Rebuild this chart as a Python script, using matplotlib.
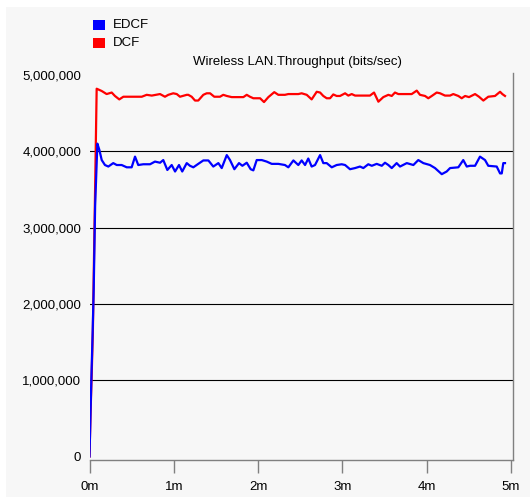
import matplotlib
matplotlib.use("Agg")
import matplotlib.pyplot as plt
from matplotlib.patches import Rectangle

# DCF series (red): time in seconds, throughput in Mbit/s
dcf_t = [0, 0.8, 1.6, 2.4, 3.2, 4.2, 5.1, 8.7, 12.2, 15.8, 18.1, 21.2, 24.1, 37.2,
         40.7, 44.3, 50.2, 53.7, 56.1, 59.6, 62.1, 64.4, 69.2, 70.3, 72.7, 75.1,
         77.4, 81.0, 83.4, 85.8, 88.8, 92.9, 95.2, 97.7, 101.2, 109.5, 111.9, 114.2,
         116.6, 121.4, 124.2, 127.3, 131.5, 134.4, 139.1, 141.5, 146.3, 148.6, 151.0,
         154.6, 158.1, 161.7, 164.1, 166.4, 168.8, 171.2, 173.5, 175.9, 178.3, 181.9,
         184.2, 186.6, 189.0, 199.6, 202.5, 205.6, 209.1, 212.7, 215.1, 217.4, 219.8,
         229.3, 232.9, 235.2, 238.8, 241.1, 243.6, 247.1, 249.5, 253.0, 256.6, 258.9,
         262.5, 264.9, 267.3, 270.1, 274.4, 277.2, 280.3, 283.8, 288.6, 292.2, 293.8,
         295.7]
dcf_v = [0, 0.6, 1.1, 1.65, 2.6, 3.75, 4.82, 4.79, 4.75, 4.77, 4.725, 4.68, 4.715, 4.715,
         4.74, 4.73, 4.75, 4.715, 4.74, 4.76, 4.75, 4.715, 4.74, 4.74, 4.715, 4.665,
         4.665, 4.74, 4.76, 4.76, 4.715, 4.715, 4.74, 4.725, 4.71, 4.71, 4.74, 4.715,
         4.695, 4.695, 4.645, 4.71, 4.775, 4.74, 4.74, 4.75, 4.75, 4.75, 4.76,
         4.74, 4.68, 4.78, 4.77, 4.725, 4.695, 4.695, 4.745, 4.725, 4.725, 4.76,
         4.73, 4.75, 4.73, 4.73, 4.77, 4.65, 4.71, 4.74, 4.725, 4.77, 4.75,
         4.75, 4.795, 4.74, 4.725, 4.695, 4.725, 4.77, 4.76, 4.73, 4.73, 4.75,
         4.725, 4.695, 4.725, 4.71, 4.75, 4.715, 4.665, 4.715, 4.725, 4.78, 4.75,
         4.725]

# EDCF series (blue)
edcf_t = [0, 0.7, 1.4, 2.2, 3.0, 4.0, 5.6, 7.0, 8.7, 11.0, 13.4, 16.9, 19.4, 22.9,
          26.5, 30.0, 32.4, 34.7, 38.3, 43.1, 46.6, 50.2, 52.5, 55.4, 58.5, 60.9,
          63.7, 66.0, 69.2, 71.5, 73.9, 77.4, 81.0, 84.6, 88.1, 91.7, 94.1, 97.7,
          100.0, 103.1, 106.4, 108.8, 111.9, 114.7, 116.6, 119.0, 122.6, 126.1, 129.7,
          134.4, 139.1, 141.5, 145.1, 148.6, 151.0, 153.4, 155.7, 158.1, 160.5, 164.1,
          166.4, 168.8, 172.4, 175.9, 179.5, 181.9, 185.4, 189.0, 192.5, 194.9, 198.4,
          200.9, 204.4, 208.0, 210.3, 212.7, 215.1, 218.6, 221.0, 225.8, 230.5, 234.0,
          237.6, 242.3, 245.9, 250.7, 254.2, 256.6, 262.5, 266.0, 268.5, 270.8, 274.4,
          277.9, 281.5, 283.8, 289.8, 292.2, 293.4, 294.5, 295.7]
edcf_v = [0, 0.55, 1.07, 1.6, 2.2, 3.28, 4.10, 4.02, 3.885, 3.82, 3.80, 3.845, 3.82, 3.82,
          3.79, 3.79, 3.93, 3.82, 3.83, 3.83, 3.865, 3.85, 3.885, 3.755, 3.82, 3.735,
          3.82, 3.735, 3.845, 3.81, 3.79, 3.835, 3.88, 3.88, 3.80, 3.845, 3.78, 3.95,
          3.885, 3.765, 3.845, 3.81, 3.85, 3.765, 3.75, 3.885, 3.885, 3.865, 3.835,
          3.835, 3.82, 3.79, 3.88, 3.82, 3.88, 3.82, 3.905, 3.80, 3.82, 3.95,
          3.845, 3.845, 3.79, 3.82, 3.83, 3.82, 3.765, 3.78, 3.80, 3.78, 3.83,
          3.81, 3.835, 3.81, 3.85, 3.82, 3.78, 3.845, 3.80, 3.845, 3.82, 3.885,
          3.845, 3.82, 3.78, 3.70, 3.735, 3.78, 3.79, 3.885, 3.80, 3.81, 3.81,
          3.93, 3.885, 3.81, 3.80, 3.71, 3.71, 3.845, 3.845]

series_names = ["EDCF", "DCF"]
series_colors = ["#0000ff", "#ff0000"]
y_ticks = [0, 1_000_000, 2_000_000, 3_000_000, 4_000_000, 5_000_000]
y_labels = ["0", "1,000,000", "2,000,000", "3,000,000", "4,000,000", "5,000,000"]
grid_levels = [1_000_000, 2_000_000, 3_000_000, 4_000_000]
x_ticks = [0, 60, 120, 180, 240, 300]
x_labels = ["0m", "1m", "2m", "3m", "4m", "5m"]
title = "Wireless LAN.Throughput (bits/sec)"

W, H = 530, 497
plt.rcParams["font.family"] = ["Liberation Sans", "DejaVu Sans"]
fig = plt.figure(figsize=(W / 100, H / 100), dpi=100)
fig.patch.set_facecolor("white")
bg = "#f7f7f7"
fig.add_artist(Rectangle((6 / W, 0), 1 - 6 / W, 1 - 7 / H, transform=fig.transFigure,
                         facecolor=bg, edgecolor="none", zorder=0))

ax = fig.add_axes([89.5 / W, 37 / H, (513 - 89.5) / W, (460 - 73) / H])
ax.set_facecolor(bg)
for lvl in grid_levels:
    ax.axhline(lvl, color="black", lw=0.8, zorder=1)

ax.plot(dcf_t, [v * 1e6 for v in dcf_v], color=series_colors[1], lw=1.6, zorder=2)
ax.plot(edcf_t, [v * 1e6 for v in edcf_v], color=series_colors[0], lw=1.6, zorder=3)

ax.set_xlim(0, 301.4)
ax.set_ylim(-46_000, 5_026_000)
ax.set_xticks(x_ticks, x_labels)
ax.set_yticks(y_ticks, y_labels)
ax.tick_params(axis="x", length=9.4, width=1, color="#808080", pad=6, labelsize=9.5)
ax.tick_params(axis="y", length=0, pad=6, labelsize=9.5)
for side in ("left", "top"):
    ax.spines[side].set_visible(False)
for side in ("bottom", "right"):
    ax.spines[side].set_color("#808080")
    ax.spines[side].set_linewidth(1)

fig.text(297 / W, 1 - 62.5 / H, title, ha="center", va="center", fontsize=9.5)

for i, (name, col) in enumerate(zip(series_names, series_colors)):
    y_top = 20 + i * 18
    fig.add_artist(Rectangle((93 / W, 1 - (y_top + 9.5) / H), 12 / W, 9.5 / H,
                             transform=fig.transFigure, facecolor=col, edgecolor="none"))
    fig.text(113 / W, 1 - (y_top + 5) / H, name, ha="left", va="center", fontsize=9.5)

fig.savefig("out.png", dpi=100)
plt.close(fig)
